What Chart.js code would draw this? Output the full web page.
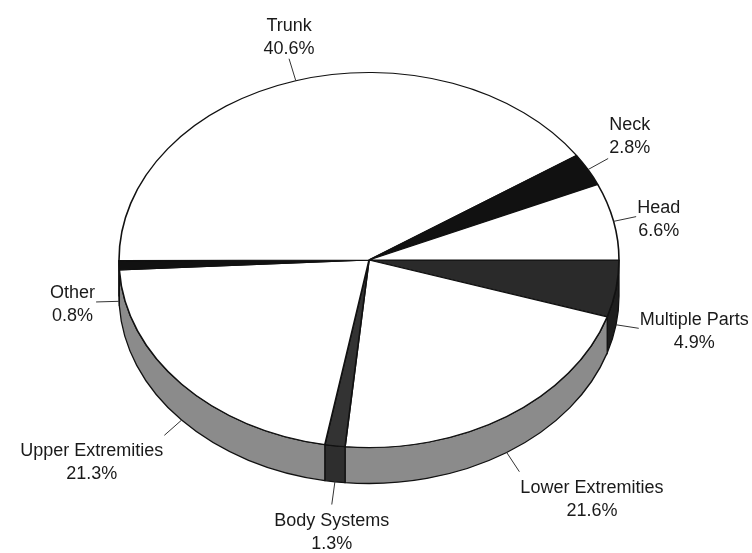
<!DOCTYPE html>
<html>
<head>
<meta charset="utf-8">
<script src="https://cdn.jsdelivr.net/npm/chart.js@4.4.1/dist/chart.umd.min.js"></script>
<style>
  html, body { margin: 0; padding: 0; background: #fff; }
  #wrap { width: 752px; height: 553px; }
</style>
</head>
<body>
<div id="wrap"><canvas id="injuryChart" width="752" height="553"></canvas></div>
<script>
// slices listed clockwise from 3 o'clock
const categories = ['Multiple Parts', 'Lower Extremities', 'Body Systems', 'Upper Extremities', 'Other', 'Trunk', 'Neck', 'Head'];
const shares = [4.9, 21.6, 1.3, 21.3, 0.8, 40.6, 2.8, 6.6];
const faceColors = ['#2a2a2a', '#ffffff', '#333333', '#ffffff', '#111111', '#ffffff', '#111111', '#ffffff'];
const sideColors = ['#1e1e1e', '#8b8b8b', '#2e2e2e', '#8b8b8b', '#111111', '#8b8b8b', '#111111', '#8b8b8b'];

const TILT = 0.75;     // vertical squash of the top face
const DEPTH = 36;      // thickness of the pie
const LEADER = 23;     // leader line length
const LINE_GAP = 23;
const CAP = 13;

function drawLabels(chart) {
  const ctx = chart.ctx;
  const meta = chart.getDatasetMeta(0);
  ctx.save();
  ctx.font = '18px "Liberation Sans", Arial, sans-serif';
  ctx.fillStyle = '#1a1a1a';
  ctx.strokeStyle = '#333';
  ctx.lineWidth = 1;
  meta.data.forEach((arc, i) => {
    const mid = (arc.startAngle + arc.endAngle) / 2;
    const c = Math.cos(mid), s = Math.sin(mid);
    const r = arc.outerRadius;
    const ax = arc.x + r * c;
    const ay = arc.y + TILT * r * s + (s > 0 ? DEPTH : 0);
    const ex = ax + LEADER * c;
    const ey = ay + LEADER * s;
    ctx.beginPath();
    ctx.moveTo(ax, ay);
    ctx.lineTo(ex, ey);
    ctx.stroke();

    const lines = [categories[i], shares[i].toFixed(1) + '%'];
    const w = Math.max(...lines.map(t => ctx.measureText(t).width));
    const blockH = CAP + LINE_GAP;
    let left, top;
    if (c > 0.35) left = ex + 1;
    else if (c < -0.35) left = ex - 1 - w;
    else left = ex - w / 2;
    if (s < -0.4) top = ey - 5 - blockH;
    else if (s > 0.4) top = ey + 8;
    else top = ey + 1.5 - blockH / 2;
    ctx.textAlign = 'center';
    ctx.textBaseline = 'alphabetic';
    lines.forEach((t, k) => ctx.fillText(t, left + w / 2, top + CAP + k * LINE_GAP));
  });
  ctx.restore();
}

const pie3d = {
  id: 'pie3d',
  beforeDatasetsDraw(chart) {
    const ctx = chart.ctx;
    const meta = chart.getDatasetMeta(0);
    ctx.save();
    ctx.lineWidth = 1.3;
    ctx.strokeStyle = '#111';
    // rim of the slices on the near (lower) half
    meta.data.forEach((arc, i) => {
      const a1 = Math.max(arc.startAngle, 0);
      const a2 = Math.min(arc.endAngle, Math.PI);
      if (a2 <= a1) return;
      const r = arc.outerRadius;
      ctx.beginPath();
      ctx.ellipse(arc.x, arc.y, r, TILT * r, 0, a1, a2);
      ctx.ellipse(arc.x, arc.y + DEPTH, r, TILT * r, 0, a2, a1, true);
      ctx.closePath();
      ctx.fillStyle = sideColors[i];
      ctx.fill();
      ctx.stroke();
    });
    ctx.restore();

    // squash the top face around the pie centre
    const cy = meta.data[0].y;
    ctx.save();
    ctx.translate(0, cy);
    ctx.scale(1, TILT);
    ctx.translate(0, -cy);
  },
  afterDatasetsDraw(chart) {
    chart.ctx.restore();
    drawLabels(chart);
  }
};

new Chart(document.getElementById('injuryChart'), {
  type: 'pie',
  data: {
    labels: categories,
    datasets: [{
      data: shares,
      backgroundColor: faceColors,
      borderColor: '#111',
      borderWidth: 1.6,
      clip: false
    }]
  },
  options: {
    responsive: false,
    animation: false,
    events: [],
    rotation: 90,
    radius: 250,
    layout: { padding: { left: 119, right: 133, top: 10, bottom: 43 } },
    plugins: {
      legend: { display: false },
      tooltip: { enabled: false }
    }
  },
  plugins: [pie3d]
});
</script>
</body>
</html>
